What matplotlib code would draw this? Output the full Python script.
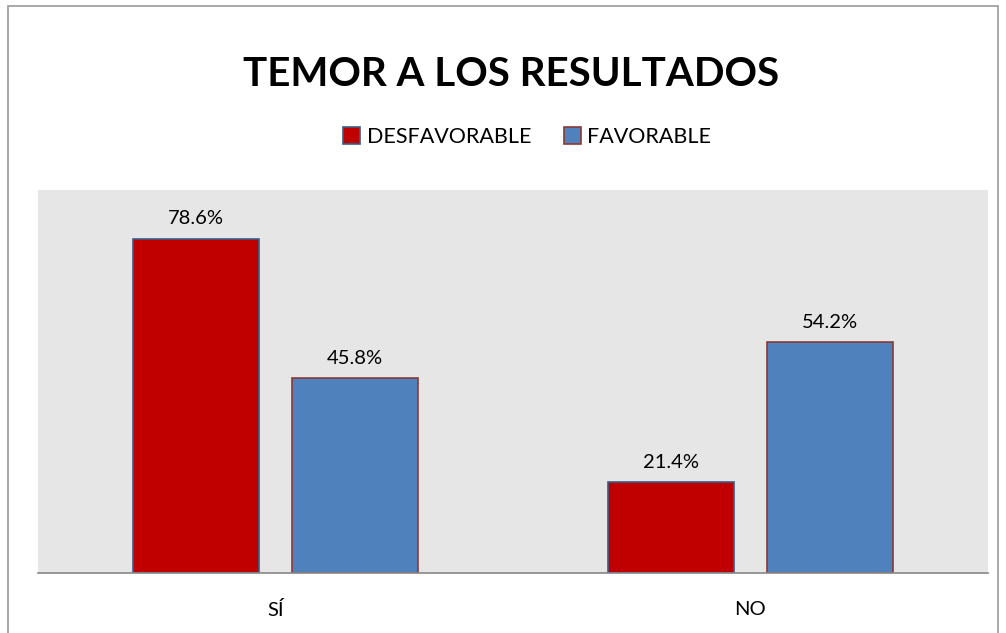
import matplotlib
matplotlib.use("Agg")
import matplotlib.pyplot as plt
import numpy as np
from matplotlib.patches import Rectangle

categories = ["SÍ", "NO"]
series_names = ["DESFAVORABLE", "FAVORABLE"]
desfavorable = [78.6, 21.4]
favorable = [45.8, 54.2]
title = "TEMOR A LOS RESULTADOS"

plt.rcParams['font.family'] = ['Lato', 'DejaVu Sans']

fig = plt.figure(figsize=(10.06, 6.33), dpi=100)
fig.patch.set_facecolor('white')
ax = fig.add_axes([38/1006, 1-573/633, 950/1006, 383/633])
ax.set_facecolor('#E6E6E6')

x = np.arange(len(categories))
w = 0.265
off = 0.167
red = '#C00000'
blue = '#4F81BD'
b1 = ax.bar(x - off, desfavorable, w, color=red, edgecolor='#385D8A', linewidth=1.2, label=series_names[0])
b2 = ax.bar(x + off, favorable, w, color=blue, edgecolor='#8C3836', linewidth=1.2, label=series_names[1])

for bars, vals in ((b1, desfavorable), (b2, favorable)):
    for b, v in zip(bars, vals):
        ax.text(b.get_x() + b.get_width()/2, v + 2.6, f"{v:.1f}%", ha='center', va='bottom', fontsize=14.5)

ax.set_xlim(-0.5, 1.5)
ax.set_ylim(0, 90)
ax.set_yticks([])
ax.set_xticks(x)
ax.set_xticklabels(categories, fontsize=14.5)
ax.tick_params(axis='x', length=0, pad=20)
for s in ['top', 'right', 'left']:
    ax.spines[s].set_visible(False)
ax.spines['bottom'].set_color('#888888')
ax.spines['bottom'].set_linewidth(1.2)

fig.text(0.508, 1-75/633, title, ha='center', va='center', fontsize=29, fontweight='bold')
fig.legend(handles=[b1, b2], labels=series_names, loc='center', bbox_to_anchor=(0.524, 1-137/633),
           ncol=2, frameon=False, fontsize=15.5, handlelength=0.8, handleheight=0.8, columnspacing=1.5, handletextpad=0.3)

fig.add_artist(Rectangle((8/1006, -0.01), 990/1006, 1.0), )
fig.artists[-1].set(fill=False, edgecolor='#999999', linewidth=1.2, transform=fig.transFigure)

fig.savefig("out.png", dpi=100)
